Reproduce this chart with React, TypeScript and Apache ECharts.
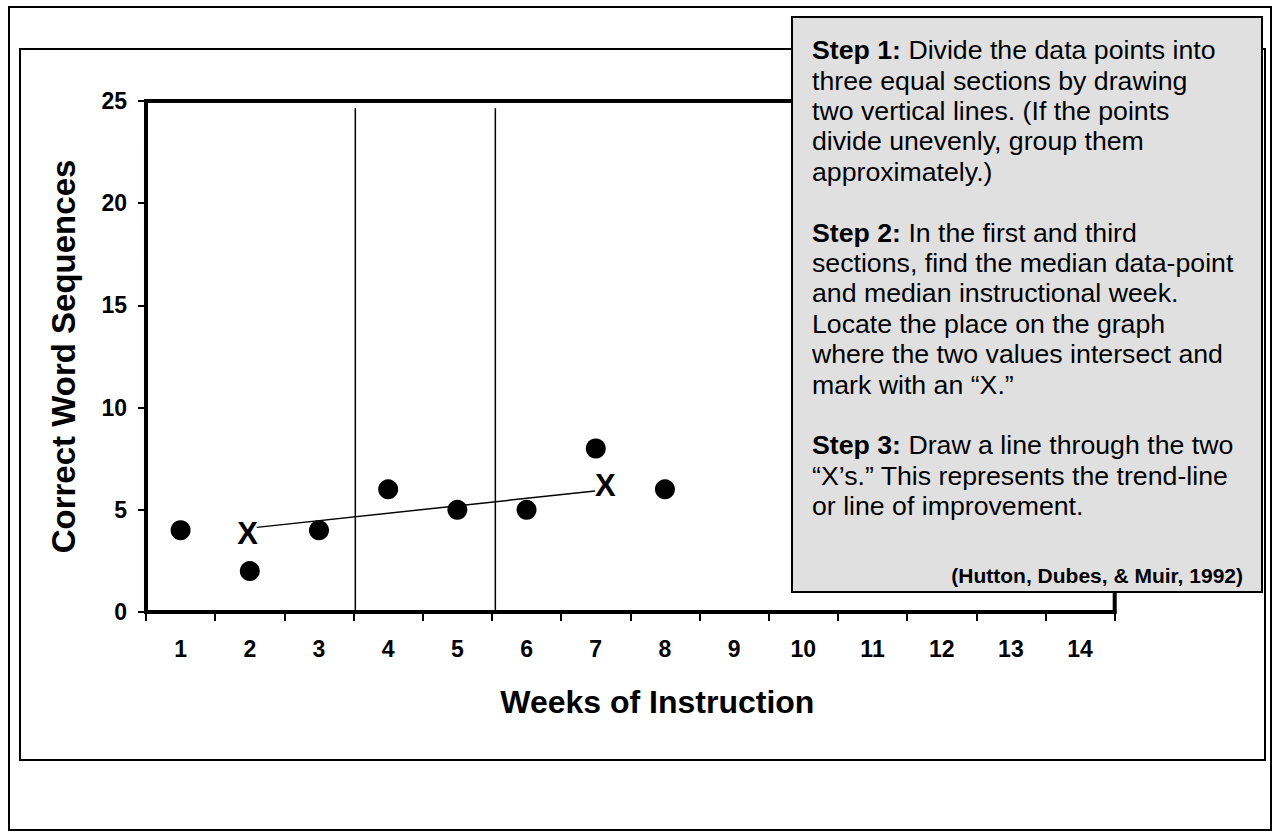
import React, { useEffect, useRef } from "react";
import * as echarts from "echarts";

const weeks = ["1", "2", "3", "4", "5", "6", "7", "8", "9", "10", "11", "12", "13", "14"];
const scores = [4, 2, 4, 6, 5, 5, 8, 6];
const sectionDividers = [3.525, 5.549];
const dividerTop = 24.64;
const trendLine = [
  [2.1, 4.14],
  [6.99, 5.92],
];
const xMarks = [
  [1.97, 3.86],
  [7.14, 6.18],
];
const step1Lines = [
  "{b|Step 1:} Divide the data points into",
  "three equal sections by drawing",
  "two vertical lines. (If the points",
  "divide unevenly, group them",
  "approximately.)",
];
const step2Lines = [
  "{b|Step 2:} In the first and third",
  "sections, find the median data-point",
  "and median instructional week.",
  "Locate the place on the graph",
  "where the two values intersect and",
  "mark with an \u201cX.\u201d",
];
const step3Lines = [
  "{b|Step 3:} Draw a line through the two",
  "\u201cX\u2019s.\u201d This represents the trend-line",
  "or line of improvement.",
];
const citation = "(Hutton, Dubes, & Muir, 1992)";

const FONT = "'Liberation Sans', Arial, Helvetica, sans-serif";
const LH = 30.4;
const BOX_FONT = 26.7;

export default function App() {
  const ref = useRef<HTMLDivElement>(null);
  useEffect(() => {
    if (!ref.current) return;
    const chart = echarts.init(ref.current, null, { renderer: "svg" });
    const stepText = (lines: string[], top: number, z: number) => ({
      type: "text",
      x: 812,
      y: top,
      z,
      style: {
        text: lines.join("\n"),
        fontFamily: FONT,
        fontSize: BOX_FONT,
        lineHeight: LH,
        fill: "#000",
        rich: {
          b: { fontFamily: FONT, fontSize: BOX_FONT, fontWeight: "bold", lineHeight: LH, fill: "#000" },
        },
      },
    });
    chart.setOption({
      animation: false,
      textStyle: { fontFamily: FONT },
      grid: {
        left: 146,
        right: 158.3,
        top: 101,
        bottom: 220,
        show: true,
        borderColor: "#000",
        borderWidth: 4,
        backgroundColor: "transparent",
      },
      xAxis: [
        {
          type: "category",
          data: weeks,
          boundaryGap: true,
          axisLine: { lineStyle: { color: "#000", width: 4 } },
          axisTick: { show: true, length: 9, lineStyle: { color: "#000", width: 2 } },
          axisLabel: { color: "#000", fontSize: 23, fontWeight: "bold", margin: 25, fontFamily: FONT },
          splitLine: { show: false },
          name: "Weeks of Instruction",
          nameLocation: "middle",
          nameGap: 74,
          nameTextStyle: {
            color: "#000",
            fontSize: 32,
            fontWeight: "bold",
            fontFamily: FONT,
            padding: [0, 0, 0, 54],
          },
        },
        {
          type: "value",
          min: 0.5,
          max: 14.5,
          show: false,
          splitLine: { show: false },
        },
      ],
      yAxis: {
        type: "value",
        min: 0,
        max: 25,
        interval: 5,
        axisLine: { show: true, lineStyle: { color: "#000", width: 4 } },
        axisTick: { show: true, length: 8, lineStyle: { color: "#000", width: 2 } },
        axisLabel: { color: "#000", fontSize: 23, fontWeight: "bold", margin: 19, fontFamily: FONT },
        splitLine: { show: false },
        name: "Correct Word Sequences",
        nameLocation: "middle",
        nameGap: 66,
        nameRotate: 90,
        nameTextStyle: { color: "#000", fontSize: 33, fontWeight: "bold", fontFamily: FONT },
      },
      series: [
        ...sectionDividers.map((x) => ({
          type: "line",
          xAxisIndex: 1,
          data: [
            [x, 0],
            [x, dividerTop],
          ],
          symbol: "none",
          lineStyle: { color: "#000", width: 1.5 },
          z: 2,
        })),
        {
          type: "line",
          xAxisIndex: 1,
          data: trendLine,
          symbol: "none",
          lineStyle: { color: "#000", width: 1.5 },
          z: 2,
        },
        {
          type: "scatter",
          xAxisIndex: 0,
          data: scores,
          symbol: "circle",
          symbolSize: 20,
          itemStyle: { color: "#000", opacity: 1 },
          z: 3,
        },
        {
          type: "scatter",
          xAxisIndex: 1,
          data: xMarks,
          symbol: "circle",
          symbolSize: 1,
          itemStyle: { color: "#fff", opacity: 0 },
          label: {
            show: true,
            position: "inside",
            formatter: "X",
            color: "#000",
            opacity: 1,
            fontSize: 31,
            fontWeight: "bold",
            fontFamily: FONT,
          },
          z: 4,
        },
      ],
      graphic: [
        {
          type: "rect",
          z: 0,
          silent: true,
          shape: { x: 9, y: 7, width: 1262, height: 823 },
          style: { fill: "none", stroke: "#000", lineWidth: 2 },
        },
        {
          type: "rect",
          z: 0,
          silent: true,
          shape: { x: 20, y: 49, width: 1245, height: 711 },
          style: { fill: "none", stroke: "#000", lineWidth: 2 },
        },
        {
          type: "rect",
          z: 100,
          silent: true,
          shape: { x: 792, y: 17, width: 470, height: 575 },
          style: { fill: "#e0e0e0", stroke: "#000", lineWidth: 2 },
        },
        stepText(step1Lines, 35, 101),
        stepText(step2Lines, 35 + 6 * LH, 101),
        stepText(step3Lines, 35 + 13 * LH, 101),
        {
          type: "text",
          z: 101,
          x: 1243,
          y: 575,
          style: {
            text: citation,
            fontFamily: FONT,
            fontSize: 21,
            fontWeight: "bold",
            fill: "#000",
            align: "right",
            verticalAlign: "middle",
          },
        },
      ],
    });
    return () => chart.dispose();
  }, []);
  return (
    <div
      ref={ref}
      style={{ position: "fixed", left: 0, top: 0, width: 1273, height: 832, background: "#fff" }}
    />
  );
}
